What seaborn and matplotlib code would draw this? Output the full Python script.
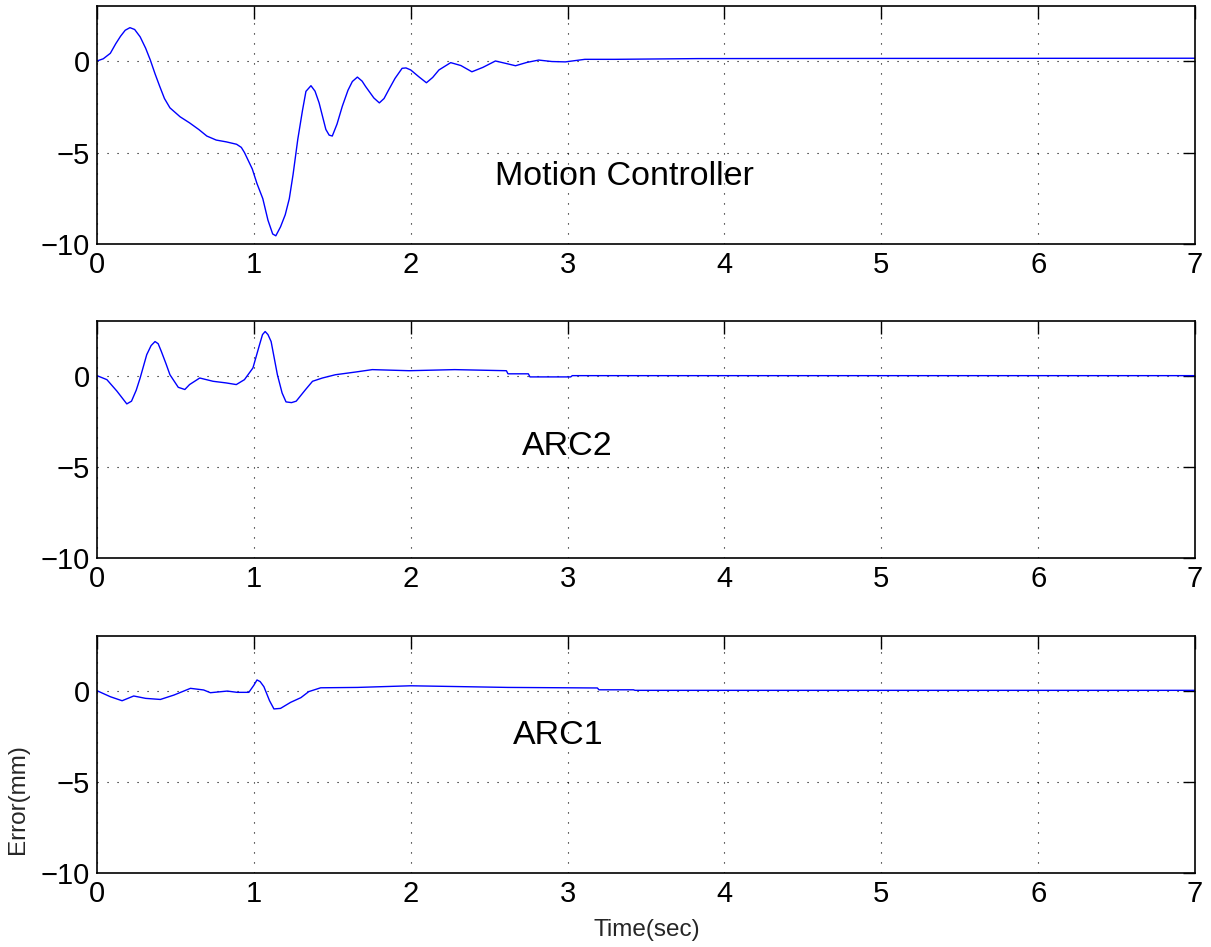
"""
Tracking error of three controllers (Motion Controller, ARC2, ARC1)
MATLAB-style stacked subplots.
"""

import numpy as np
import pandas as pd
import matplotlib
matplotlib.use("Agg")
import matplotlib.pyplot as plt
import seaborn as sns

# --------------------------------------------------
# Data
# --------------------------------------------------

t_mc = [0.0, 0.04, 0.085, 0.12, 0.15, 0.18, 0.21, 0.24, 0.275, 0.31,
        0.34, 0.37, 0.40, 0.43, 0.465, 0.53, 0.59, 0.65, 0.70, 0.76,
        0.825, 0.89, 0.92, 0.94, 0.99, 1.02, 1.057, 1.09, 1.12, 1.14,
        1.17, 1.20, 1.226, 1.25, 1.28, 1.31, 1.332, 1.364, 1.39, 1.416,
        1.44, 1.459, 1.48, 1.50, 1.53, 1.564, 1.60, 1.628, 1.66, 1.69,
        1.712, 1.765, 1.80, 1.83, 1.86, 1.90, 1.945, 1.97, 2.00, 2.05,
        2.10, 2.14, 2.18, 2.255, 2.32, 2.39, 2.46, 2.54, 2.60, 2.668,
        2.74, 2.816, 2.90, 2.986, 3.11, 3.30, 3.83, 5.0, 7.0]
e_mc = [0.0, 0.12, 0.42, 0.95, 1.35, 1.68, 1.82, 1.72, 1.32, 0.70,
        0.05, -0.70, -1.39, -2.05, -2.56, -3.05, -3.38, -3.75, -4.10,
        -4.32, -4.42, -4.55, -4.72, -5.0, -5.90, -6.70, -7.52, -8.70,
        -9.45, -9.55, -9.06, -8.40, -7.52, -6.20, -4.28, -2.70, -1.66,
        -1.35, -1.65, -2.29, -3.10, -3.74, -4.05, -4.10, -3.45, -2.47,
        -1.60, -1.12, -0.88, -1.10, -1.39, -2.02, -2.29, -2.05, -1.57,
        -0.95, -0.40, -0.38, -0.49, -0.85, -1.19, -0.90, -0.49, -0.09,
        -0.25, -0.59, -0.35, 0.0, -0.12, -0.26, -0.08, 0.05, -0.03,
        -0.05, 0.09, 0.09, 0.13, 0.14, 0.15]

t_arc2 = [0.0, 0.063, 0.127, 0.19, 0.22, 0.25, 0.275, 0.317, 0.345,
          0.37, 0.39, 0.41, 0.44, 0.465, 0.518, 0.56, 0.59, 0.655, 0.74,
          0.824, 0.888, 0.94, 0.994, 1.036, 1.055, 1.072, 1.09, 1.11,
          1.15, 1.18, 1.205, 1.24, 1.27, 1.33, 1.374, 1.437, 1.52, 1.65,
          1.755, 1.99, 2.28, 2.61, 2.62, 2.75, 2.76, 3.02, 3.03, 7.0]
e_arc2 = [0.0, -0.22, -0.85, -1.55, -1.40, -0.80, -0.13, 1.15, 1.65,
          1.87, 1.75, 1.33, 0.65, 0.05, -0.64, -0.76, -0.49, -0.13,
          -0.31, -0.40, -0.49, -0.22, 0.42, 1.69, 2.25, 2.42, 2.25,
          1.87, 0.05, -0.95, -1.44, -1.48, -1.40, -0.76, -0.31, -0.13,
          0.05, 0.20, 0.33, 0.27, 0.33, 0.27, 0.10, 0.10, -0.07, -0.07,
          0.0, 0.0]

t_arc1 = [0.0, 0.085, 0.16, 0.234, 0.31, 0.404, 0.49, 0.596, 0.68,
          0.723, 0.83, 0.894, 0.968, 1.0, 1.02, 1.04, 1.064, 1.10,
          1.128, 1.17, 1.234, 1.30, 1.35, 1.426, 1.66, 2.0, 2.62, 3.19,
          3.20, 3.42, 3.43, 7.0]
e_arc1 = [0.0, -0.33, -0.55, -0.29, -0.42, -0.48, -0.24, 0.13, 0.04,
          -0.11, -0.02, -0.09, -0.09, 0.30, 0.59, 0.50, 0.22, -0.55,
          -1.0, -0.97, -0.64, -0.38, -0.05, 0.16, 0.18, 0.27, 0.18,
          0.15, 0.05, 0.05, 0.02, 0.02]

panels = [
    ("Motion Controller", t_mc, e_mc, (3.36, -6.3)),
    ("ARC2", t_arc2, e_arc2, (3.0, -3.9)),
    ("ARC1", t_arc1, e_arc1, (2.94, -2.45)),
]

x_ticks = list(range(0, 8))
y_ticks = [-10, -5, 0]
y_tick_labels = ['\u221210', '\u22125', '0']

# --------------------------------------------------
# Style
# --------------------------------------------------

sns.set_style("white")
plt.rcParams['font.family'] = ['Liberation Sans', 'DejaVu Sans']

fig = plt.figure(figsize=(12.11, 9.47), dpi=100)

# axes rectangles in figure fractions: left, bottom, width, height
rects = [
    [0.0801, 0.7423, 0.9067, 0.2513],
    [0.0801, 0.4108, 0.9067, 0.2503],
    [0.0801, 0.0781, 0.9067, 0.2503],
]

for (label, t, e, txt_pos), rect in zip(panels, rects):
    ax = fig.add_axes(rect)
    df = pd.DataFrame({'t': t, 'e': e})
    sns.lineplot(data=df, x='t', y='e', ax=ax, color='blue',
                 linewidth=1.0, sort=False, estimator=None)

    ax.set_xlim(0, 7)
    ax.set_ylim(-10, 3)
    ax.set_xticks(x_ticks)
    ax.set_yticks(y_ticks)
    ax.set_yticklabels(y_tick_labels)
    ax.set_xlabel('')
    ax.set_ylabel('')

    ax.grid(True, color='black', linestyle=(0, (1, 8)), linewidth=0.8)
    ax.tick_params(direction='in', length=9, width=1.0,
                   top=True, right=True, labelsize=21, pad=5,
                   colors='black')
    for sp in ax.spines.values():
        sp.set_visible(True)
        sp.set_color('black')
        sp.set_linewidth(1.2)

    ax.text(txt_pos[0], txt_pos[1], label, fontsize=24.5,
            ha='center', va='center', color='black')

fig.text(0.534, 0.018, 'Time(sec)', fontsize=17.5, ha='center',
         va='center')
fig.text(0.015, 0.156, 'Error(mm)', fontsize=17.5, ha='center',
         va='center', rotation=90)

plt.savefig('out.png', dpi=100)
